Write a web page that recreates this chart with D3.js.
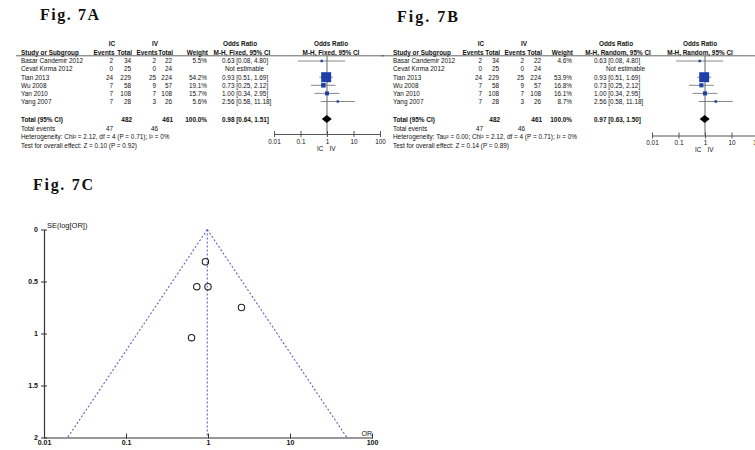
<!DOCTYPE html>
<html>
<head>
<meta charset="utf-8">
<script src="https://cdn.jsdelivr.net/npm/d3@7"></script>
<style>
  html, body { margin: 0; padding: 0; background: #ffffff; }
  svg { display: block; }
  text { font-family: "Liberation Sans", Arial, sans-serif; fill: #111; }
</style>
</head>
<body>
<script>
// ---- study data -------------------------------------------------------
const studies   = ["Basar Candemir 2012", "Cevat Kırma 2012", "Tian 2013", "Wu 2008", "Yan 2010", "Yang 2007"];
const icEvents  = [2, 0, 24, 7, 7, 7];
const icTotal   = [34, 25, 229, 58, 108, 28];
const ivEvents  = [2, 0, 25, 9, 7, 3];
const ivTotal   = [22, 24, 224, 57, 108, 26];
const oddsRatio = [0.63, null, 0.93, 0.73, 1.00, 2.56];
const ciLower   = [0.08, null, 0.51, 0.25, 0.34, 0.58];
const ciUpper   = [4.80, null, 1.69, 2.12, 2.95, 11.18];
const weightFixed  = [5.5, null, 54.2, 19.1, 15.7, 5.6];
const weightRandom = [4.6, null, 53.9, 16.8, 16.1, 8.7];
const seLogOR   = [1.04, null, 0.31, 0.55, 0.55, 0.75];

// pooled estimates
const pooledFixed  = { or: 0.98, lo: 0.64, hi: 1.51 };
const pooledRandom = { or: 0.97, lo: 0.63, hi: 1.50 };
const totalIC = 482, totalIV = 461, eventsIC = 47, eventsIV = 46;

// axis ticks
const orTicks     = [0.01, 0.1, 1, 10, 100];
const orTickText  = ["0.01", "0.1", "1", "10", "100"];
const seTicks     = [0, 0.5, 1, 1.5, 2];

const W = 755, H = 450;
const svg = d3.select("body").append("svg").attr("width", W).attr("height", H);
svg.append("rect").attr("width", W).attr("height", H).attr("fill", "#fff");

const FS = 6.4;                 // table font size
const rowBase = i => 63.3 + i * 8.1;
const fmt2 = d3.format(".2f");
const fmtW = d3.format(".1f");

function title(txt, x, y, len) {
  svg.append("text").attr("x", x).attr("y", y).text(txt)
    .style("font-family", "'Liberation Serif', 'DejaVu Serif', serif")
    .style("font-weight", "bold").style("font-size", "16px").attr("fill", "#111")
    .attr("textLength", len).attr("lengthAdjust", "spacing");
}

function drawForest(cfg) {
  const g = svg.append("g");
  const t = (x, y, s, anchor, bold) => g.append("text")
    .attr("x", x).attr("y", y).attr("text-anchor", anchor || "start")
    .style("font-size", FS + "px").style("font-weight", bold ? "bold" : "normal").text(s);

  // group headers
  t(cfg.icCenter, 45.5, "IC", "middle", true);
  t(cfg.ivCenter, 45.5, "IV", "middle", true);
  t(cfg.orHead1, 45.5, "Odds Ratio", "middle", true);
  t(cfg.plotHead, 45.5, "Odds Ratio", "middle", true);

  // column headers
  const hy = 55.2;
  t(cfg.studyX, hy, "Study or Subgroup", "start", true);
  t(cfg.cols[0] + 1.5, hy, "Events", "end", true);
  t(cfg.cols[1] + 1, hy, "Total", "end", true);
  t(cfg.cols[2] + 1.5, hy, "Events", "end", true);
  t(cfg.cols[3] + 1, hy, "Total", "end", true);
  t(cfg.weightRight + 1, hy, "Weight", "end", true);
  t(cfg.orHead1 + 2, hy, cfg.method, "middle", true);
  t(cfg.plotHead, hy, cfg.method, "middle", true);

  g.append("line").attr("x1", cfg.lineX[0]).attr("x2", cfg.lineX[1])
    .attr("y1", 55.8).attr("y2", 55.8).attr("stroke", "#555").attr("stroke-width", 0.9);

  const x = d3.scaleLog().domain([0.01, 100]).range(cfg.plotRange);
  const side = d3.scalePow().exponent(0.75).domain([0, 54.2]).range([0, 10]);

  // vertical line of no effect
  g.append("line").attr("x1", x(1)).attr("x2", x(1)).attr("y1", 55.8).attr("y2", cfg.axisY)
    .attr("stroke", "#666").attr("stroke-width", 1);

  studies.forEach((s, i) => {
    const y = rowBase(i);
    t(cfg.studyX, y, s);
    t(cfg.cols[0], y, icEvents[i], "end");
    t(cfg.cols[1], y, icTotal[i], "end");
    t(cfg.cols[2], y, ivEvents[i], "end");
    t(cfg.cols[3], y, ivTotal[i], "end");
    const w = cfg.weights[i];
    if (w == null) {
      t(cfg.orTextEnd, y, "Not estimable", "end");
      return;
    }
    t(cfg.weightRight, y, fmtW(w) + "%", "end");
    t(cfg.orTextX, y, `${fmt2(oddsRatio[i])} [${fmt2(ciLower[i])}, ${fmt2(ciUpper[i])}]`);
    const cy = y - 2.3;
    g.append("line").attr("x1", x(ciLower[i])).attr("x2", x(ciUpper[i]))
      .attr("y1", cy).attr("y2", cy).attr("stroke", "#6a6a6a").attr("stroke-width", 0.8);
    const sz = Math.max(2.4, side(w));
    g.append("rect").attr("x", x(oddsRatio[i]) - sz / 2).attr("y", cy - sz / 2)
      .attr("width", sz).attr("height", sz).attr("fill", "#1f3fa8");
  });

  // overall
  const ty = 121.6;
  t(cfg.studyX, ty, "Total (95% CI)", "start", true);
  t(cfg.cols[1] + 1, ty, totalIC, "end", true);
  t(cfg.cols[3] + 1, ty, totalIV, "end", true);
  t(cfg.weightRight, ty, "100.0%", "end", true);
  t(cfg.orTextX, ty, `${fmt2(cfg.pooled.or)} [${fmt2(cfg.pooled.lo)}, ${fmt2(cfg.pooled.hi)}]`, "start", true);
  const dy = ty - 2.6, dh = 4;
  g.append("path")
    .attr("d", `M${x(cfg.pooled.lo)},${dy} L${x(cfg.pooled.or)},${dy - dh} L${x(cfg.pooled.hi)},${dy} L${x(cfg.pooled.or)},${dy + dh} Z`)
    .attr("fill", "#000");

  t(cfg.studyX, 130.8, "Total events");
  t(cfg.evRight[0], 130.8, eventsIC, "end");
  t(cfg.evRight[1], 130.8, eventsIV, "end");
  t(cfg.studyX, 139.3, cfg.het);
  t(cfg.studyX, 148, cfg.test);

  // OR axis
  const ax = g.append("g").attr("transform", `translate(0,${cfg.axisY})`)
    .call(d3.axisBottom(x).tickValues(orTicks).tickFormat((d, i) => orTickText[i])
      .tickSizeOuter(0).tickSizeInner(3).tickPadding(2));
  ax.select(".domain").attr("stroke", "#555");
  ax.selectAll(".tick line").attr("y1", -3).attr("y2", 3).attr("stroke", "#555");
  ax.selectAll(".tick text").style("font-size", FS + "px").attr("fill", "#111")
    .style("font-family", "'Liberation Sans', Arial, sans-serif");
  t(x(1) - 3.5, cfg.axisY + 16.5, "IC", "end");
  t(x(1) + 2.5, cfg.axisY + 16.5, "IV", "start");
}

title("Fig. 7A", 40, 19.5, 59);
title("Fig. 7B", 397, 21.5, 61);
title("Fig. 7C", 33, 190, 60);

drawForest({
  studyX: 21, icCenter: 112, ivCenter: 155, cols: [113, 131, 156, 172], weightRight: 207,
  evRight: [113, 158], orTextX: 222, orTextEnd: 264, orHead1: 240, plotHead: 331,
  plotRange: [274, 380], axisY: 134, lineX: [16, 384], method: "M-H, Fixed, 95% CI",
  weights: weightFixed, pooled: pooledFixed,
  het: "Heterogeneity: Chi² = 2.12, df = 4 (P = 0.71); I² = 0%",
  test: "Test for overall effect: Z = 0.10 (P = 0.92)"
});

drawForest({
  studyX: 393, icCenter: 481, ivCenter: 524, cols: [482, 499, 524, 541], weightRight: 572,
  evRight: [483, 525], orTextX: 594, orTextEnd: 645, orHead1: 616, plotHead: 700,
  plotRange: [652, 758], axisY: 135.5, lineX: [381, 755], method: "M-H, Random, 95% CI",
  weights: weightRandom, pooled: pooledRandom,
  het: "Heterogeneity: Tau² = 0.00; Chi² = 2.12, df = 4 (P = 0.71); I² = 0%",
  test: "Test for overall effect: Z = 0.14 (P = 0.89)"
});

// ---- funnel plot ------------------------------------------------------
(function funnel() {
  const g = svg.append("g");
  const x = d3.scaleLog().domain([0.01, 100]).range([44, 372]);
  const y = d3.scaleLinear().domain([0, 2]).range([229.5, 437.5]);
  const z = 1.96, seMax = 2, centre = pooledFixed.or;
  const blue = "#5a64c8";

  const lo = centre * Math.exp(-z * seMax), hi = centre * Math.exp(z * seMax);
  const guide = (x1, y1, x2, y2) => g.append("line")
    .attr("x1", x1).attr("y1", y1).attr("x2", x2).attr("y2", y2)
    .attr("stroke", blue).attr("stroke-width", 1.1).attr("stroke-dasharray", "2,2");
  guide(x(centre), y(0), x(lo), y(seMax));
  guide(x(centre), y(0), x(hi), y(seMax));
  guide(x(centre), y(0), x(centre), y(seMax));

  // axes
  const yax = g.append("g").attr("transform", `translate(${x(0.01)},0)`)
    .call(d3.axisLeft(y).tickValues(seTicks).tickFormat(d3.format("")).tickSizeOuter(0).tickSizeInner(3).tickPadding(3));
  yax.selectAll(".tick line").attr("x1", -3).attr("x2", 3);
  const xax = g.append("g").attr("transform", `translate(0,${y(2)})`)
    .call(d3.axisBottom(x).tickValues(orTicks).tickFormat((d, i) => orTickText[i]).tickSizeOuter(0).tickSizeInner(1).tickPadding(2));
  xax.selectAll(".tick line").attr("y1", -4).attr("y2", 1);
  [yax, xax].forEach(a => {
    a.select(".domain").attr("stroke", "#333").attr("stroke-width", 1.2);
    a.selectAll(".tick line").attr("stroke", "#333");
    a.selectAll(".tick text").style("font-size", "7px").style("font-weight", "bold")
      .style("font-family", "'Liberation Sans', Arial, sans-serif").attr("fill", "#111");
  });

  g.append("text").attr("x", 47).attr("y", 228).style("font-size", "7.5px").text("SE(log[OR])");
  g.append("text").attr("x", 372).attr("y", 436).attr("text-anchor", "end").style("font-size", "7px").text("OR");

  // studies
  studies.forEach((s, i) => {
    if (seLogOR[i] == null) return;
    g.append("circle").attr("cx", x(oddsRatio[i])).attr("cy", y(seLogOR[i])).attr("r", 3.2)
      .attr("fill", "none").attr("stroke", "#222").attr("stroke-width", 1.1);
  });
})();
</script>
</body>
</html>
